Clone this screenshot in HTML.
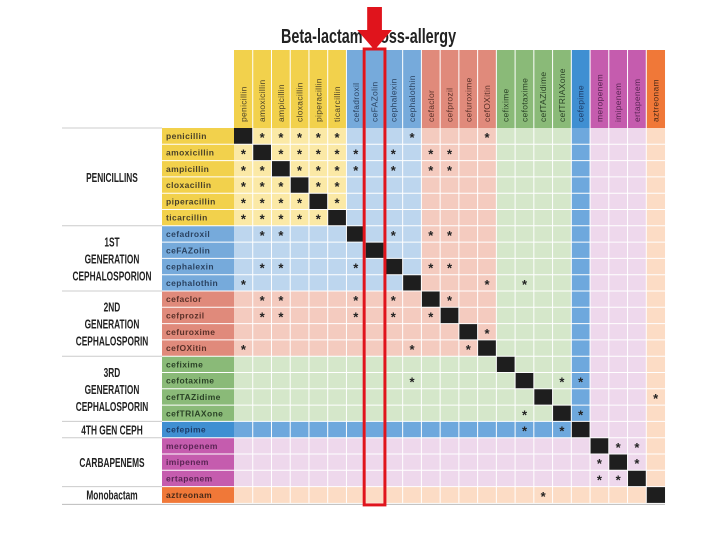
<!DOCTYPE html>
<html><head><meta charset="utf-8"><style>
body{margin:0;background:#fff;width:720px;height:540px;overflow:hidden;font-family:"Liberation Sans",sans-serif}
</style></head><body>
<svg id="c" width="720" height="540" xmlns="http://www.w3.org/2000/svg">
<text x="281" y="43" font-size="20" font-weight="bold" fill="#222" transform="translate(281 0) scale(0.72 1) translate(-281 0)">Beta-lactam cross-allergy</text>
<g id="g"></g>
</svg>
<script>
const drugs=["penicillin","amoxicillin","ampicillin","cloxacillin","piperacillin","ticarcillin","cefadroxil","ceFAZolin","cephalexin","cephalothin","cefaclor","cefprozil","cefuroxime","cefOXitin","cefixime","cefotaxime","cefTAZidime","cefTRIAXone","cefepime","meropenem","imipenem","ertapenem","aztreonam"];
const drugGroup=[0,0,0,0,0,0,1,1,1,1,2,2,2,2,3,3,3,3,4,5,5,5,6];
const groupNames=[["PENICILLINS"],["1ST","GENERATION","CEPHALOSPORION"],["2ND","GENERATION","CEPHALOSPORIN"],["3RD","GENERATION","CEPHALOSPORIN"],["4TH GEN CEPH"],["CARBAPENEMS"],["Monobactam"]];
const headColors=["#f2d14c","#76aadb","#e08a7b","#8aba78","#3f8fd2","#c55cae","#f07838"];
const lightColors=["#fbe9a6","#bdd6ee","#f4cbbf","#d5e7ca","#6ea8dd","#eed8ec","#fcdcc5"];
const textColors=["#4a4128","#2a4260","#5a3028","#2a4226","#1c3a66","#5a2454","#4a2a18"];
const stars=[[0,1],[0,2],[0,3],[0,4],[0,5],[0,9],[0,13],
[1,0],[1,2],[1,3],[1,4],[1,5],[1,6],[1,8],[1,10],[1,11],
[2,0],[2,1],[2,3],[2,4],[2,5],[2,6],[2,8],[2,10],[2,11],
[3,0],[3,1],[3,2],[3,4],[3,5],[4,0],[4,1],[4,2],[4,3],[4,5],[5,0],[5,1],[5,2],[5,3],[5,4],
[6,1],[6,2],[6,8],[6,10],[6,11],[8,1],[8,2],[8,6],[8,10],[8,11],[9,0],[9,13],[9,15],
[10,1],[10,2],[10,6],[10,8],[10,11],[11,1],[11,2],[11,6],[11,8],[11,10],[12,13],[13,0],[13,9],[13,12],
[15,9],[15,17],[15,18],[16,22],[17,15],[17,18],[18,15],[18,17],[19,20],[19,21],[20,19],[20,21],[21,19],[21,20],[22,16]];
const X0=234,CW=18.74,Y0=128,RH=16.3,LX=162,HY=50;
const NS="http://www.w3.org/2000/svg",g=document.getElementById("g");
function mk(t,a,txt){const e=document.createElementNS(NS,t);for(const k in a)e.setAttribute(k,a[k]);if(txt!=null)e.textContent=txt;g.appendChild(e);return e;}
const cx=c=>X0+c*CW, ry=r=>Y0+r*RH;
drugs.forEach((d,c)=>{
 const gr=drugGroup[c];
 const h=mk("rect",{x:cx(c),y:HY,width:CW,height:Y0-HY,fill:headColors[gr]});
 
 
 const t=mk("text",{x:cx(c)+CW/2+3,y:Y0-6,"font-size":8.5,"letter-spacing":"0.3",fill:textColors[gr],transform:`rotate(-90 ${cx(c)+CW/2+3} ${Y0-6})`},d);
 
 
});
drugs.forEach((d,r)=>{
 const gr=drugGroup[r];
 const b=mk("rect",{x:LX,y:ry(r),width:X0-LX,height:RH,fill:headColors[gr]});
 
 
 const t=mk("text",{x:LX+4,y:ry(r)+RH/2+3,"font-size":8.5,"font-weight":"bold","letter-spacing":"0.4",fill:textColors[gr]},d);
 
 
});
for(let r=0;r<drugs.length;r++)for(let c=0;c<drugs.length;c++){
 const gr=Math.max(drugGroup[r],drugGroup[c]);
 const e=mk("rect",{x:cx(c),y:ry(r),width:CW,height:RH,fill:r===c?"#1e1e1e":lightColors[gr]});
 
 
}
for(let c=1;c<drugs.length;c++){const l=mk("line",{x1:cx(c),y1:HY,x2:cx(c),y2:ry(drugs.length),stroke:"#fff","stroke-width":1});}
for(let r=1;r<drugs.length;r++){const l=mk("line",{x1:LX,y1:ry(r),x2:cx(drugs.length),y2:ry(r),stroke:"#fff","stroke-width":1});}
stars.forEach(([r,c])=>{
 const s=mk("text",{x:cx(c)+CW/2,y:ry(r)+RH/2+6,"font-size":13,"font-weight":"bold","text-anchor":"middle",fill:"#222"},"*");
 
 
});
let start=0;
groupNames.forEach((lines,gi)=>{
 let n=drugGroup.filter(x=>x===gi).length;
 const y1=ry(start),y2=ry(start+n);
 const l=mk("line",{x1:62,y1:y1,x2:LX,y2:y1,stroke:"#ccc","stroke-width":1});
 
 
 const mid=(y1+y2)/2, lh=17;
 lines.forEach((s,i)=>{
  const yy=mid-(lines.length-1)*lh/2+i*lh+5;
  const t=mk("text",{x:112,y:yy,"font-size":13,"font-weight":"bold","text-anchor":"middle",fill:"#222",transform:`translate(112 0) scale(0.64 1) translate(-112 0)`},s);
  
  
 });
 start+=n;
});
const bl=mk("line",{x1:62,y1:ry(23)+1.5,x2:cx(23),y2:ry(23)+1.5,stroke:"#bbb","stroke-width":1});

const hr=mk("rect",{x:cx(7)-1,y:49,width:CW+2,height:ry(23)-49+2,fill:"none",stroke:"#e0141c","stroke-width":3});

const ar=mk("polygon",{points:`${cx(7)+2},7 ${cx(7)+CW-2},7 ${cx(7)+CW-2},30 ${cx(7)+CW+8},30 ${cx(7)+CW/2},50 ${cx(7)-8},30 ${cx(7)+2},30`,fill:"#e0141c"});

</script>
</body></html>
